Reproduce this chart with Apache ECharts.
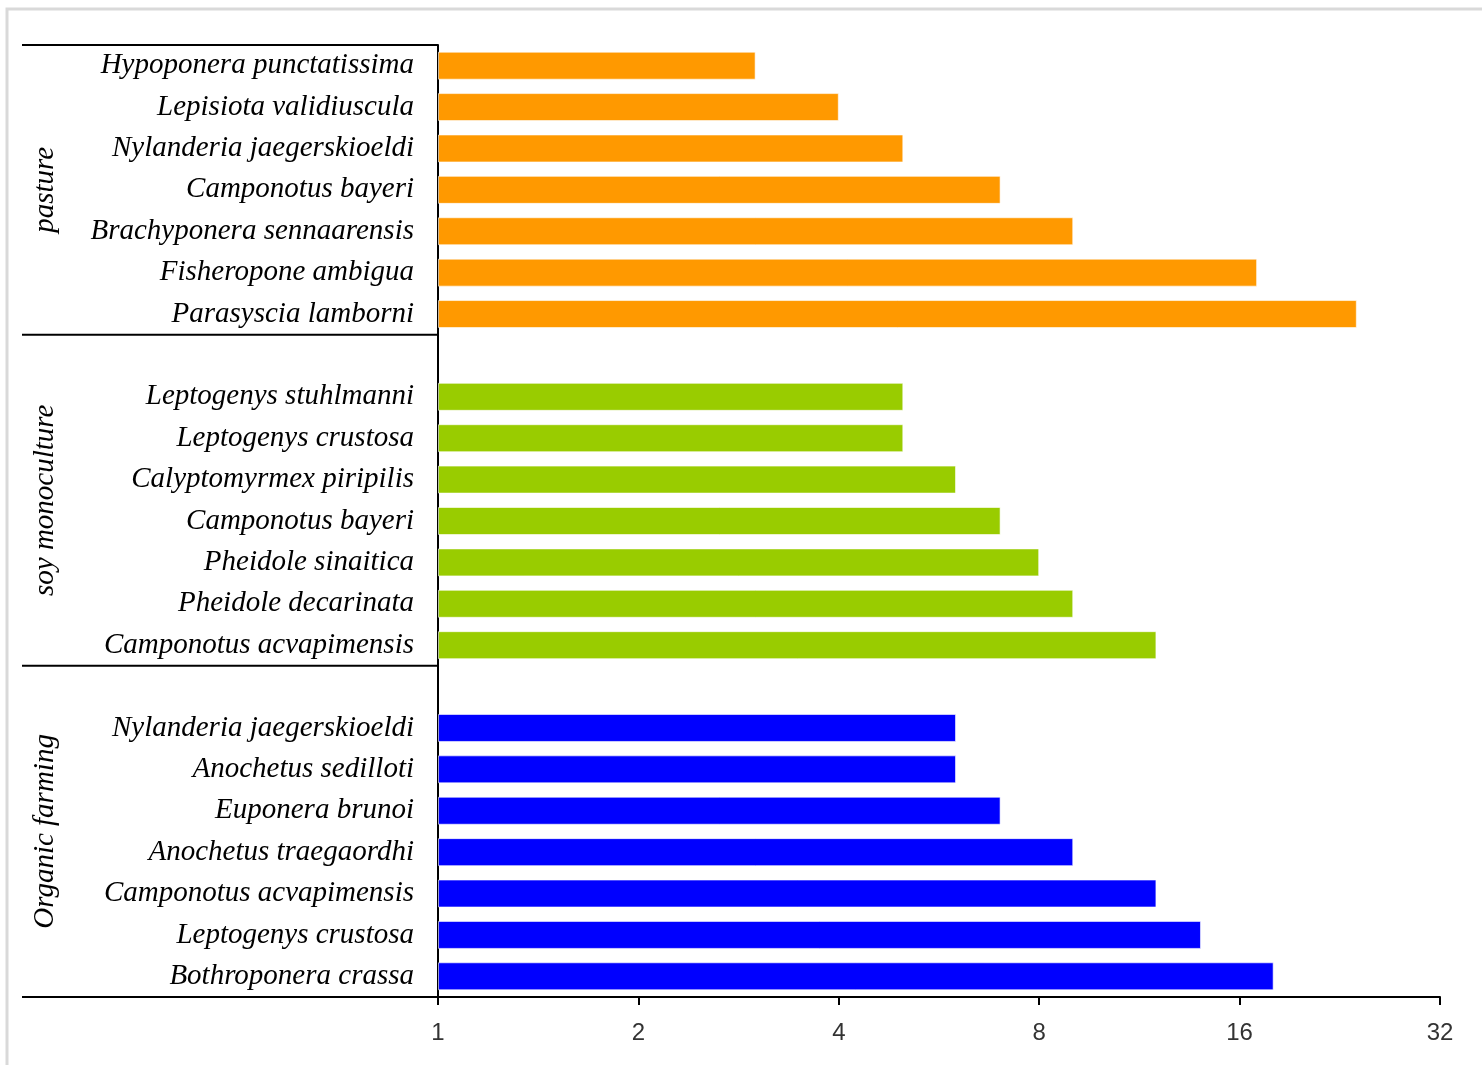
<!DOCTYPE html>
<html>
<head>
<meta charset="utf-8">
<script src="https://cdn.jsdelivr.net/npm/echarts@6/dist/echarts.min.js"></script>
<style>
  html, body { margin: 0; padding: 0; background: #fff; }
  #chart { width: 1482px; height: 1065px; }
</style>
</head>
<body>
<div id="chart"></div>
<script>
// Species per land-use group, top to bottom
const pastureSpecies = ['Hypoponera punctatissima', 'Lepisiota validiuscula', 'Nylanderia jaegerskioeldi',
  'Camponotus bayeri', 'Brachyponera sennaarensis', 'Fisheropone ambigua', 'Parasyscia lamborni'];
const pastureValues = [3, 4, 5, 7, 9, 17, 24];

const soySpecies = ['Leptogenys stuhlmanni', 'Leptogenys crustosa', 'Calyptomyrmex piripilis',
  'Camponotus bayeri', 'Pheidole sinaitica', 'Pheidole decarinata', 'Camponotus acvapimensis'];
const soyValues = [5, 5, 6, 7, 8, 9, 12];

const organicSpecies = ['Nylanderia jaegerskioeldi', 'Anochetus sedilloti', 'Euponera brunoi',
  'Anochetus traegaordhi', 'Camponotus acvapimensis', 'Leptogenys crustosa', 'Bothroponera crassa'];
const organicValues = [6, 6, 7, 9, 12, 14, 18];

const groupNames = ['pasture', 'soy monoculture', 'Organic farming'];
const groupColors = ['#FF9900', '#99CC00', '#0000FF'];
const tickValues = [1, 2, 4, 8, 16, 32];

// One category slot per species, with an empty slot between groups
const groups = [
  { species: pastureSpecies, values: pastureValues },
  { species: soySpecies, values: soyValues },
  { species: organicSpecies, values: organicValues }
];
const categories = [];
const groupSpans = [];   // [firstSlot, lastSlot] covered by each group label
groups.forEach((g, gi) => {
  const start = categories.length;
  if (gi > 0) categories.push(' '.repeat(gi));
  g.species.forEach(s => categories.push(s + '\u200b'.repeat(gi)));
  groupSpans.push([start, categories.length - 1]);
});
const seriesData = groups.map((g, gi) => {
  const arr = categories.map(() => null);
  const offset = groupSpans[gi][1] - g.values.length + 1;
  g.values.forEach((v, i) => { arr[offset + i] = v; });
  return arr;
});

const chart = echarts.init(document.getElementById('chart'), null, { renderer: 'canvas' });
const labelFont = '"Liberation Serif", "DejaVu Serif", serif';

chart.setOption({
  animation: false,
  backgroundColor: '#fff',
  grid: { left: 438, right: 42, top: 45, bottom: 68, containLabel: false },
  xAxis: {
    type: 'log',
    logBase: 2,
    min: 1,
    max: 32,
    splitLine: { show: false },
    axisLine: { show: true, lineStyle: { color: '#000', width: 2 } },
    axisTick: { show: true, inside: false, length: 8, lineStyle: { color: '#000', width: 2 } },
    axisLabel: {
      margin: 24,
      fontFamily: '"Liberation Sans", Arial, sans-serif',
      fontSize: 24,
      color: '#333',
      formatter: v => (tickValues.indexOf(Math.round(v)) >= 0 ? String(Math.round(v)) : '')
    }
  },
  yAxis: {
    type: 'category',
    inverse: true,
    data: categories,
    axisLine: { show: true, onZero: false, lineStyle: { color: '#000', width: 2 } },
    axisTick: { show: false },
    splitLine: { show: false },
    axisLabel: {
      margin: 24,
      fontFamily: labelFont,
      fontStyle: 'italic',
      fontSize: 29,
      color: '#000',
      formatter: v => v.replace(/\u200b/g, '').trim()
    }
  },
  series: seriesData.map((d, i) => ({
    name: groupNames[i],
    type: 'bar',
    data: d,
    barWidth: 28,
    barGap: '-100%',
    itemStyle: { color: groupColors[i], borderColor: 'rgba(255,255,255,0.6)', borderWidth: 1 }
  }))
});

// Group brackets and labels on the left, placed from the category axis
function drawGroups() {
  const yOf = idx => chart.convertToPixel({ yAxisIndex: 0 }, categories[idx]);
  const band = yOf(1) - yOf(0);
  const xAxisEnd = chart.convertToPixel({ xAxisIndex: 0 }, 1);
  const leftX = 22;
  const elements = [];
  const edges = [yOf(0) - band / 2];
  groupSpans.forEach(s => edges.push(yOf(s[1]) + band / 2));
  edges.forEach(y => {
    elements.push({
      type: 'line',
      shape: { x1: leftX, y1: y, x2: xAxisEnd, y2: y },
      style: { stroke: '#000', lineWidth: 2 },
      z: 10
    });
  });
  groupSpans.forEach((s, i) => {
    const yc = (yOf(s[0]) + yOf(s[1])) / 2;
    elements.push({
      type: 'text',
      x: 45,
      y: yc,
      rotation: Math.PI / 2,
      style: {
        text: groupNames[i],
        font: 'italic 29px ' + labelFont,
        fill: '#000',
        align: 'center',
        verticalAlign: 'middle'
      },
      z: 10
    });
  });
  // light frame around the figure
  elements.push({
    type: 'polyline',
    shape: { points: [[7, 1065], [7, 9], [1482, 9]] },
    style: { stroke: '#d9d9d9', lineWidth: 3, fill: null },
    z: 0
  });
  chart.setOption({ graphic: elements });
}
drawGroups();
</script>
</body>
</html>
